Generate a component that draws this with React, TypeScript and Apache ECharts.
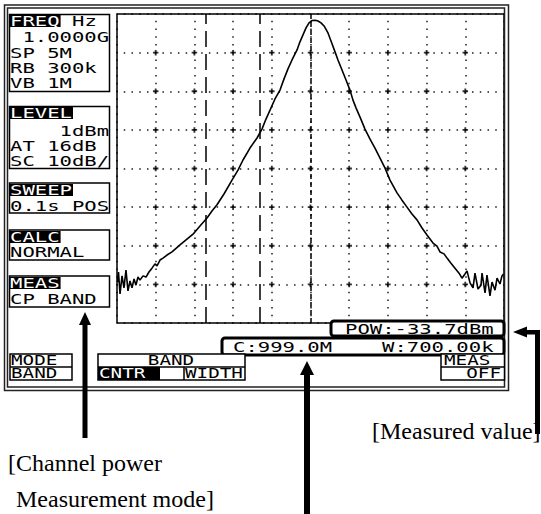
import React, { useEffect, useRef } from "react";
import * as echarts from "echarts";

// ---- Analyzer settings ----
const CENTER_MHZ = 1000.0;
const SPAN_MHZ = 5;
const REF_LEVEL_DBM = 1;
const DB_PER_DIV = 10;
const X_DIVS = 10;
const Y_DIVS = 8;
const BAND_CENTER_MHZ = 999.0;
const BAND_WIDTH_MHZ = 0.7;

// ---- Trace (frequency in MHz, level in dBm) ----
const TRACE_FREQ_MHZ = [
  997.506, 997.519, 997.539, 997.565, 997.59, 997.616, 997.642, 997.668, 997.694, 997.72,
  997.745, 997.771, 997.797, 997.836, 997.875, 997.913, 997.952, 997.991, 998.017, 998.056,
  998.094, 998.146, 998.211, 998.314, 998.392, 998.482, 998.572, 998.663, 998.727, 998.792,
  998.882, 998.986, 999.063, 999.128, 999.218, 999.309, 999.373, 999.425, 999.477, 999.541,
  999.606, 999.658, 999.709, 999.761, 999.826, 999.864, 999.903, 999.942, 999.981, 1000.019,
  1000.058, 1000.097, 1000.136, 1000.175, 1000.226, 1000.265, 1000.317, 1000.355, 1000.407, 1000.459,
  1000.51, 1000.549, 1000.588, 1000.64, 1000.704, 1000.769, 1000.833, 1000.898, 1000.963, 1001.027,
  1001.118, 1001.182, 1001.247, 1001.311, 1001.376, 1001.441, 1001.505, 1001.583, 1001.634, 1001.673,
  1001.725, 1001.764, 1001.815, 1001.867, 1001.919, 1001.957, 1001.996, 1002.022, 1002.061, 1002.1,
  1002.125, 1002.164, 1002.203, 1002.216, 1002.255, 1002.28, 1002.319, 1002.345, 1002.384, 1002.41,
  1002.448, 1002.474, 1002.494,
];
const TRACE_LEVEL_DBM = [
  -68.4, -65.8, -71.5, -66.8, -69.9, -65.3, -70.7, -68.1, -69.9, -67.6,
  -69.2, -67.1, -67.9, -66.8, -67.1, -65.8, -64.8, -63.7, -64.2, -62.7,
  -62.2, -61.4, -60.6, -58.8, -57.5, -56.0, -53.9, -51.8, -50.0, -48.4,
  -45.6, -42.0, -39.4, -36.8, -33.7, -31.1, -28.8, -26.2, -23.9, -21.0,
  -18.7, -15.8, -13.2, -10.9, -8.3, -6.2, -4.4, -2.6, -1.3, -0.7,
  -0.6, -0.8, -1.3, -2.1, -3.9, -6.0, -8.8, -10.9, -13.5, -16.1,
  -18.7, -21.3, -23.3, -25.7, -28.8, -31.4, -33.7, -36.3, -38.9, -42.0,
  -45.3, -47.2, -49.0, -50.8, -52.3, -54.4, -56.2, -58.3, -59.1, -60.6,
  -61.1, -62.2, -63.5, -64.8, -66.1, -67.4, -66.3, -65.5, -68.6, -69.9,
  -66.1, -70.2, -69.2, -66.1, -71.2, -66.6, -72.0, -68.4, -70.5, -67.4,
  -68.9, -66.8, -66.3,
];

// ---- Screen texts ----
const FREQ_LINES = [" 1.0000G", "SP 5M", "RB 300k", "VB 1M"];
const LEVEL_LINES = ["    1dBm", "AT 16dB", "SC 10dB/"];
const SWEEP_LINES = ["0.1s POS"];
const CALC_LINES = ["NORMAL"];
const MEAS_LINES = ["CP BAND"];
const POW_TEXT = "POW:-33.7dBm";
const CENTER_TEXT = "C:999.0M";
const WIDTH_TEXT = "W:700.00k";
const CAPTION_LEFT = ["[Channel power", "Measurement mode]"];
const CAPTION_RIGHT = "[Measured value]";

const MONO = "'DejaVu Sans Mono', 'Liberation Mono', monospace";
const FS = 13.5;
const ADV = FS * 0.602;
const PITCH = 12.4;
const SX = PITCH / ADV;
const SX_MENU = 11.6 / ADV;

function mono(text: string, x: number, y: number, opt: any = {}) {
  return {
    type: "text",
    x,
    y,
    scaleX: opt.sx ?? SX,
    z: 20,
    silent: true,
    style: {
      text,
      font: `${FS}px ${MONO}`,
      fill: opt.fill ?? "#000",
      align: opt.align ?? "left",
      textAlign: opt.align ?? "left",
      verticalAlign: "middle",
      textVerticalAlign: "middle",
    },
  };
}

function rect(x: number, y: number, w: number, h: number, opt: any = {}) {
  return {
    type: "rect",
    z: opt.z ?? 15,
    silent: true,
    shape: { x, y, width: w, height: h, r: opt.r ?? 0 },
    style: {
      fill: opt.fill ?? "none",
      stroke: opt.stroke ?? "none",
      lineWidth: opt.lw ?? 1.5,
    },
  };
}

function hline(x1: number, x2: number, y: number, lw = 1.5) {
  return { type: "line", z: 16, silent: true, shape: { x1, y1: y, x2, y2: y }, style: { stroke: "#000", lineWidth: lw } };
}
function vline(x: number, y1: number, y2: number, lw = 1.5) {
  return { type: "line", z: 16, silent: true, shape: { x1: x, y1, x2: x, y2 }, style: { stroke: "#000", lineWidth: lw } };
}

function panel(title: string, lines: string[], top: number, bottom: number, headerY: number, rowYs: number[]) {
  const els: any[] = [];
  els.push(rect(9.5, top, 100, bottom - top, { stroke: "#000", fill: "#fff" }));
  els.push(rect(10, headerY - 6, title.length * PITCH + 1, 12, { fill: "#000" }));
  els.push(mono(title, 10, headerY, { fill: "#fff" }));
  lines.forEach((l, i) => els.push(mono(l, 10, rowYs[i])));
  return els;
}

export default function App() {
  const ref = useRef<HTMLDivElement>(null);

  useEffect(() => {
    if (!ref.current) return;
    const chart = echarts.init(ref.current, undefined, { renderer: "svg" });

    const xMin = CENTER_MHZ - SPAN_MHZ / 2;
    const xMax = CENTER_MHZ + SPAN_MHZ / 2;
    const xStep = SPAN_MHZ / X_DIVS;
    const yMin = -DB_PER_DIV * Y_DIVS;
    const yMax = 0;

    const trace = TRACE_FREQ_MHZ.map((f, i) => [f, TRACE_LEVEL_DBM[i] - REF_LEVEL_DBM]);

    const crosses: number[][] = [];
    for (let i = 1; i < X_DIVS; i++) {
      for (let j = 1; j < Y_DIVS; j++) {
        crosses.push([xMin + i * xStep, yMin + j * DB_PER_DIV]);
      }
    }

    const dotted = { color: "#000", width: 1.5, type: [1.5, 6.24], dashOffset: 0.75, opacity: 0.9 };

    const graphic: any[] = [];
    // outer double frame
    graphic.push(rect(4.5, 5, 504, 385.5, { stroke: "#222", lw: 1.5, z: 5 }));
    graphic.push(rect(7.5, 8, 497, 379, { stroke: "#222", lw: 1.5, z: 5 }));

    // left panels
    graphic.push(...panel("FREQ", FREQ_LINES, 14.5, 91.5, 21, [37.5, 53, 68.5, 83.5]));
    graphic.push(mono("Hz", 72, 21));
    graphic.push(...panel("LEVEL", LEVEL_LINES, 106.5, 168.5, 113, [131, 146, 161]));
    graphic.push(...panel("SWEEP", SWEEP_LINES, 183, 213, 190, [206]));
    graphic.push(...panel("CALC", CALC_LINES, 230, 260, 237, [252]));
    graphic.push(...panel("MEAS", MEAS_LINES, 276, 307, 283, [299]));

    // measured value boxes
    graphic.push(rect(222, 338, 282, 17, { stroke: "#000", fill: "#fff", lw: 3, r: 3 }));
    graphic.push(mono(CENTER_TEXT, 233, 347));
    graphic.push(mono(WIDTH_TEXT, 382, 347));
    graphic.push(rect(331, 321, 173, 15, { stroke: "#000", fill: "#fff", lw: 3, r: 3 }));
    graphic.push(mono(POW_TEXT, 345, 329));

    // bottom soft-key menu
    graphic.push(rect(10, 354, 62, 26, { stroke: "#000", fill: "#fff" }));
    graphic.push(hline(10, 72, 367));
    graphic.push(mono("MODE", 11, 361, { sx: SX_MENU }));
    graphic.push(mono("BAND", 11, 374, { sx: SX_MENU }));

    graphic.push(rect(98, 354, 147, 26, { stroke: "#000", fill: "#fff" }));
    graphic.push(hline(98, 245, 367));
    graphic.push(mono("BAND", 171, 361, { sx: SX_MENU, align: "center" }));
    graphic.push(rect(98, 367, 62, 13, { fill: "#000", z: 17 }));
    graphic.push(mono("CNTR", 99, 374, { sx: SX_MENU, fill: "#fff" }));
    graphic.push(vline(184, 367, 380));
    graphic.push(mono("WIDTH", 185, 374, { sx: SX_MENU }));

    graphic.push(rect(441, 354, 63.5, 26, { stroke: "#000", fill: "#fff" }));
    graphic.push(hline(441, 504.5, 367));
    graphic.push(mono("MEAS", 444, 361, { sx: SX_MENU }));
    graphic.push(mono("OFF", 501, 374, { sx: SX_MENU, align: "right" }));

    // arrows
    graphic.push(rect(82.5, 322, 5, 116, { fill: "#000", z: 18 }));
    graphic.push({ type: "polygon", z: 18, silent: true, shape: { points: [[85, 312], [79, 325], [91, 325]] }, style: { fill: "#000" } });

    graphic.push(rect(304, 372, 6, 142, { fill: "#000", z: 18 }));
    graphic.push({ type: "polygon", z: 18, silent: true, shape: { points: [[307, 361], [300, 375], [314, 375]] }, style: { fill: "#000" } });

    graphic.push(rect(524, 330, 16, 4.5, { fill: "#000", z: 18 }));
    graphic.push(rect(535, 330, 5, 104, { fill: "#000", z: 18 }));
    graphic.push({ type: "polygon", z: 18, silent: true, shape: { points: [[513, 332], [527, 326.5], [527, 337.5]] }, style: { fill: "#000" } });

    // captions
    const serif = "'Liberation Serif', 'DejaVu Serif', serif";
    graphic.push({ type: "text", x: 8, y: 463, z: 20, silent: true, style: { text: CAPTION_LEFT[0], font: `24px ${serif}`, fill: "#000", verticalAlign: "middle", textVerticalAlign: "middle" } });
    graphic.push({ type: "text", x: 16, y: 499, z: 20, silent: true, style: { text: CAPTION_LEFT[1], font: `24px ${serif}`, fill: "#000", verticalAlign: "middle", textVerticalAlign: "middle" } });
    graphic.push({ type: "text", x: 372, y: 431, z: 20, silent: true, style: { text: CAPTION_RIGHT, font: `24px ${serif}`, fill: "#000", verticalAlign: "middle", textVerticalAlign: "middle" } });

    chart.setOption({
      animation: false,
      backgroundColor: "#fff",
      grid: { left: 117, top: 14, width: 387, height: 309, show: true, borderColor: "#000", borderWidth: 1.5, backgroundColor: "transparent" },
      xAxis: {
        type: "value",
        min: xMin,
        max: xMax,
        interval: xStep,
        axisLine: { show: false },
        axisTick: { show: false },
        axisLabel: { show: false },
        splitLine: { show: true, lineStyle: dotted },
      },
      yAxis: {
        type: "value",
        min: yMin,
        max: yMax,
        interval: DB_PER_DIV,
        axisLine: { show: false },
        axisTick: { show: false },
        axisLabel: { show: false },
        splitLine: { show: true, lineStyle: dotted },
      },
      series: [
        {
          type: "scatter",
          data: crosses,
          symbol: "path://M2,0h2v2h2v2h-2v2h-2v-2h-2v-2h2z",
          symbolSize: 5.5,
          itemStyle: { color: "#000" },
          silent: true,
          z: 3,
        },
        {
          type: "line",
          data: trace,
          showSymbol: false,
          symbol: "none",
          clip: true,
          lineStyle: { color: "#000", width: 1.6 },
          silent: true,
          z: 5,
          markLine: {
            silent: true,
            symbol: ["none", "none"],
            label: { show: false },
            data: [
              { xAxis: CENTER_MHZ, lineStyle: { color: "#000", width: 1.5, type: [5, 3] } },
              { xAxis: BAND_CENTER_MHZ - BAND_WIDTH_MHZ / 2, lineStyle: { color: "#000", width: 1.5, type: [16, 7] } },
              { xAxis: BAND_CENTER_MHZ + BAND_WIDTH_MHZ / 2, lineStyle: { color: "#000", width: 1.5, type: [16, 7] } },
            ],
          },
        },
      ],
      graphic,
    });

    return () => chart.dispose();
  }, []);

  return (
    <div
      ref={ref}
      style={{ position: "absolute", left: 0, top: 0, width: 541, height: 514, background: "#fff" }}
    />
  );
}
